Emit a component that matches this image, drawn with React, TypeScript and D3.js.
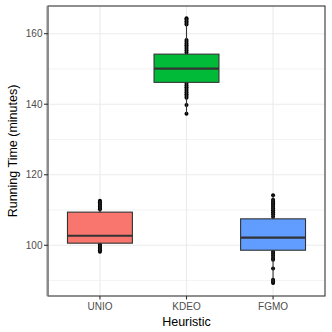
import React from "react";
import * as d3 from "d3";

// categories and colours
const heuristics = ["UNIO", "KDEO", "FGMO"];
const fills = ["#F8766D", "#00BA38", "#619CFF"];

// box statistics
const q1 = [100.6, 146.2, 98.6];
const medians = [102.7, 150.1, 102.2];
const q3 = [109.4, 154.2, 107.5];

// raw running times (points outside the box are the visible ones)
const unioTimes = [
  112.6, 112.2, 111.8, 111.4, 111.0, 110.6, 110.2,
  109.0, 108.0, 107.0, 106.0, 105.0, 104.0, 103.0, 102.0, 101.0,
  100.2, 99.8, 99.4, 99.0, 98.6, 98.2,
];
const kdeoTimes = [
  164.4, 164.0, 163.5, 163.0, 162.6,
  158.2, 157.7, 157.2, 156.7, 156.2, 155.7, 155.2, 154.7,
  153.0, 152.0, 151.0, 150.0, 149.0, 148.0, 147.0,
  145.8, 145.3, 144.8, 144.3, 143.8, 143.3, 142.8, 142.3, 141.8,
  139.8, 137.3,
];
const fgmoTimes = [
  114.2, 112.9, 112.4, 111.9, 111.4, 110.9, 110.4, 109.9, 109.4, 108.8, 108.1,
  107.0, 106.0, 105.0, 104.0, 103.0, 101.0, 100.0, 99.0,
  98.2, 97.6, 97.0, 96.4, 95.9,
  93.4,
  90.2, 89.7, 89.3,
];
const times = [unioTimes, kdeoTimes, fgmoTimes];

const yTicks = [100, 120, 140, 160];
const yMinor = [90, 110, 130, 150];

const W = 332;
const H = 332;
const left = 48;
const right = 325;
const top = 6;
const bottom = 296;
const font = "'Liberation Sans', Arial, sans-serif";

export default function App() {
  const x = d3.scalePoint<string>().domain(heuristics).range([left, right]).padding(0.6);
  const y = d3.scaleLinear().domain([85.62, 167.85]).range([bottom, top]);
  const boxW = x.step() * 0.75;
  const dark = "#333333";

  return (
    <svg width={W} height={H} style={{ position: "fixed", left: 0, top: 0, background: "#fff" }}>
      <rect x={left} y={top} width={right - left} height={bottom - top} fill="#fff" />
      {/* grid */}
      {yMinor.map((v) => (
        <line key={"m" + v} x1={left} x2={right} y1={y(v)} y2={y(v)} stroke="#EBEBEB" strokeWidth={0.6} />
      ))}
      {yTicks.map((v) => (
        <line key={"g" + v} x1={left} x2={right} y1={y(v)} y2={y(v)} stroke="#EBEBEB" strokeWidth={1.1} />
      ))}
      {heuristics.map((h) => (
        <line key={"v" + h} x1={x(h)} x2={x(h)} y1={top} y2={bottom} stroke="#EBEBEB" strokeWidth={1.1} />
      ))}

      {/* points */}
      {heuristics.map((h, i) =>
        times[i].map((t, j) => <circle key={h + j} cx={x(h)} cy={y(t)} r={2} fill="#000" />)
      )}

      {/* boxes */}
      {heuristics.map((h, i) => {
        const [lo, hi] = d3.extent(times[i]) as [number, number];
        const cx = x(h) as number;
        return (
          <g key={"b" + h}>
            <line x1={cx} x2={cx} y1={y(q3[i])} y2={y(hi)} stroke={dark} strokeWidth={1.1} />
            <line x1={cx} x2={cx} y1={y(q1[i])} y2={y(lo)} stroke={dark} strokeWidth={1.1} />
            <rect
              x={cx - boxW / 2}
              y={y(q3[i])}
              width={boxW}
              height={y(q1[i]) - y(q3[i])}
              fill={fills[i]}
              stroke={dark}
              strokeWidth={1.1}
            />
            <line x1={cx - boxW / 2} x2={cx + boxW / 2} y1={y(medians[i])} y2={y(medians[i])} stroke={dark} strokeWidth={2.2} />
          </g>
        );
      })}

      {/* panel border */}
      <rect x={left} y={top} width={right - left} height={bottom - top} fill="none" stroke={dark} strokeWidth={1.1} />
      <line x1={left - 0.5} x2={left - 0.5} y1={top} y2={bottom} stroke="#8a8a8a" strokeWidth={2} />

      {/* y axis */}
      {yTicks.map((v) => (
        <g key={"t" + v}>
          <line x1={left - 4} x2={left} y1={y(v)} y2={y(v)} stroke={dark} strokeWidth={1.1} />
          <text x={left - 5.5} y={y(v)} dy="0.35em" textAnchor="end" fontFamily={font} fontSize={10} fill="#4D4D4D">
            {v}
          </text>
        </g>
      ))}
      {/* x axis */}
      {heuristics.map((h) => (
        <g key={"xt" + h}>
          <line x1={x(h)} x2={x(h)} y1={bottom} y2={bottom + 3.5} stroke={dark} strokeWidth={1.1} />
          <text x={x(h)} y={309.5} textAnchor="middle" fontFamily={font} fontSize={10} fill="#4D4D4D">
            {h}
          </text>
        </g>
      ))}

      <text x={(left + right) / 2} y={326} textAnchor="middle" fontFamily={font} fontSize={12.5} fill="#000">
        Heuristic
      </text>
      <text
        transform={`translate(16.5, ${(top + bottom) / 2}) rotate(-90)`}
        textAnchor="middle"
        fontFamily={font}
        fontSize={12.5}
        fill="#000"
      >
        Running Time (minutes)
      </text>
    </svg>
  );
}
